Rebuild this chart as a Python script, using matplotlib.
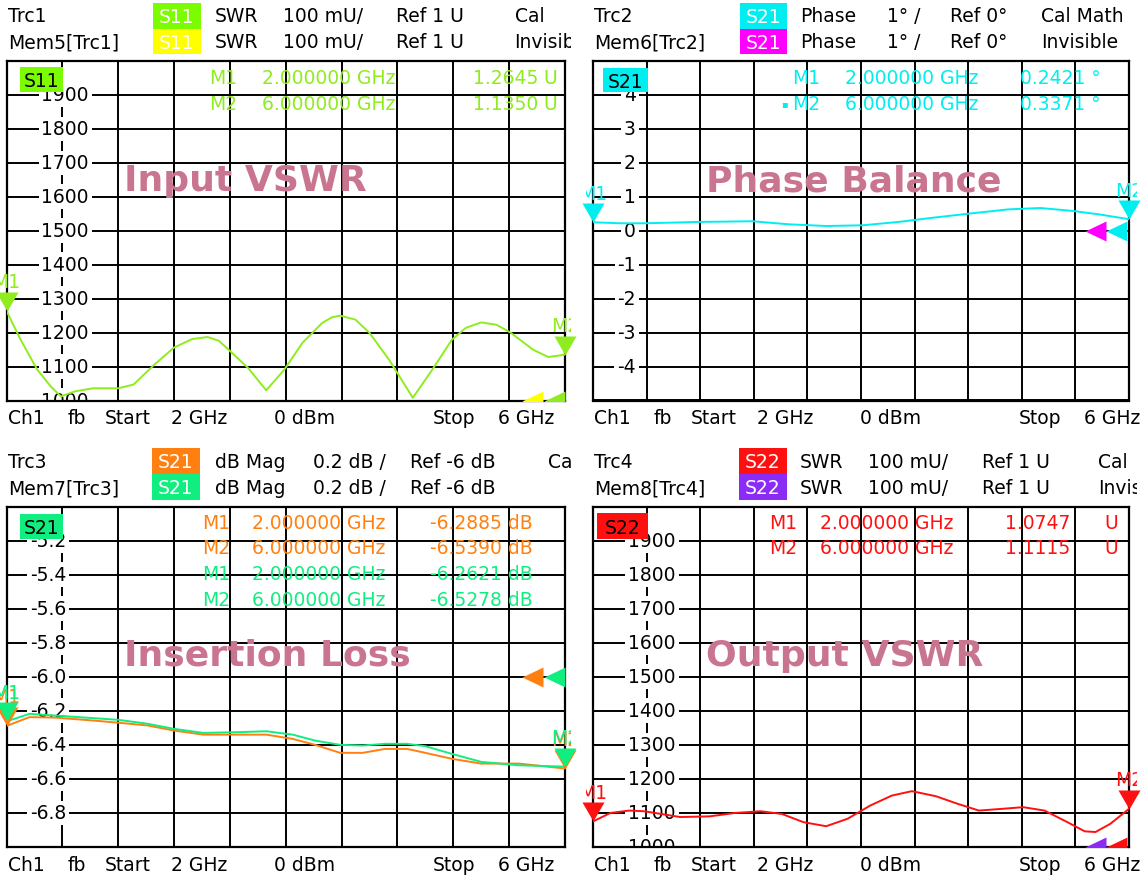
import numpy as np
import matplotlib
matplotlib.use("Agg")
import matplotlib.pyplot as plt
from matplotlib.patches import Rectangle
from matplotlib.transforms import Bbox, ScaledTranslation

W, H = 1143, 879

# ---- data (2 GHz .. 6 GHz sweep) ----
vswr_in_freq = [2.0, 2.1, 2.22, 2.32, 2.39, 2.49, 2.62, 2.80, 2.91, 3.06, 3.20, 3.33, 3.44,
                3.52, 3.59, 3.73, 3.86, 3.99, 4.12, 4.26, 4.33, 4.39, 4.50, 4.60, 4.74,
                4.91, 5.05, 5.19, 5.29, 5.40, 5.51, 5.61, 5.77, 5.88, 6.0]
vswr_in = [1264, 1180, 1091, 1040, 1012, 1027, 1036, 1036, 1047, 1106, 1156, 1181, 1187,
           1176, 1150, 1096, 1030, 1091, 1170, 1228, 1245, 1250, 1238, 1199, 1120,
           1008, 1091, 1179, 1214, 1230, 1223, 1200, 1150, 1128, 1135]

phase_freq = [2.0, 2.2, 2.375, 2.6, 2.78, 3.0, 3.19, 3.46, 3.74, 4.01, 4.28, 4.55, 4.82,
              5.10, 5.34, 5.59, 5.78, 6.0]
phase = [0.25, 0.22, 0.22, 0.24, 0.26, 0.27, 0.28, 0.19, 0.14, 0.16, 0.26, 0.39, 0.51,
         0.63, 0.67, 0.58, 0.48, 0.34]

il_freq = [2.0, 2.165, 2.35, 2.62, 2.80, 3.01, 3.20, 3.41, 3.68, 3.86, 4.05, 4.21, 4.39,
           4.55, 4.71, 4.87, 5.00, 5.19, 5.40, 5.67, 6.0]
il_trc = [-6.289, -6.237, -6.24, -6.257, -6.27, -6.286, -6.316, -6.34, -6.34, -6.34, -6.365,
          -6.40, -6.447, -6.447, -6.424, -6.424, -6.447, -6.482, -6.51, -6.51, -6.539]
il_mem = [-6.262, -6.218, -6.228, -6.243, -6.253, -6.276, -6.306, -6.33, -6.325, -6.32, -6.34,
          -6.375, -6.40, -6.404, -6.394, -6.394, -6.408, -6.453, -6.50, -6.52, -6.528]

vswr_out_freq = [2.0, 2.13, 2.27, 2.38, 2.51, 2.65, 2.87, 3.06, 3.25, 3.41, 3.57, 3.74, 3.90,
                 4.07, 4.23, 4.38, 4.56, 4.72, 4.88, 5.05, 5.21, 5.37, 5.54, 5.67, 5.75,
                 5.86, 6.0]
vswr_out = [1075, 1100, 1107, 1105, 1097, 1088, 1090, 1100, 1105, 1097, 1073, 1061, 1083,
            1122, 1151, 1164, 1149, 1127, 1107, 1112, 1117, 1107, 1073, 1046, 1044,
            1068, 1112]

vswr_ticks = [1000, 1100, 1200, 1300, 1400, 1500, 1600, 1700, 1800, 1900]
phase_ticks = [-4, -3, -2, -1, 0, 1, 2, 3, 4]
il_ticks = [-5.2, -5.4, -5.6, -5.8, -6.0, -6.2, -6.4, -6.6, -6.8]

LIME = '#8fec1e'
YELLOW = '#ffff00'
CYAN = '#00eef0'
MAGENTA = '#ff00ff'
ORANGE = '#ff8010'
MINT = '#10ee80'
RED = '#ff1010'
PURPLE = '#8a2cf6'
TITLE = '#c97590'
FS = 13.5

plt.rcParams['font.family'] = 'DejaVu Sans'
fig = plt.figure(figsize=(W / 100, H / 100), dpi=100)
fig.patch.set_facecolor('white')


def pix_clip(x0, y0, x1, y1):
    return Bbox.from_extents(x0, H - y1, x1, H - y0)


def ftext(x, y, s, color='black', size=FS, ha='left', clip=None, **kw):
    t = fig.text(x / W, 1 - y / H, s, color=color, fontsize=size, ha=ha, va='center', **kw)
    if clip is not None:
        t.set_clip_box(pix_clip(*clip))
        t.set_clip_on(True)
    return t


def fbox(x0, y0, x1, y1, fc, s, tc):
    fig.add_artist(Rectangle((x0 / W, 1 - y1 / H), (x1 - x0) / W, (y1 - y0) / H,
                             transform=fig.transFigure, fc=fc, ec='none', zorder=4))
    ftext((x0 + x1) / 2, (y0 + y1) / 2 + 1, s, color=tc, ha='center', zorder=5)


def panel(l, r, t, b, ylim):
    ax = fig.add_axes([l / W, 1 - b / H, (r - l) / W, (b - t) / H])
    ax.set_xlim(2, 6)
    ax.set_ylim(*ylim)
    ax.set_xticks(np.linspace(2, 6, 11))
    ax.set_yticks(np.linspace(ylim[0], ylim[1], 11))
    ax.tick_params(length=0, labelbottom=False, labelleft=False)
    ax.grid(True, color='black', lw=1.4)
    ax.set_axisbelow(True)
    for s in ax.spines.values():
        s.set_linewidth(1.6)
    return ax


def ylabels(ax, ticks, fmt, xpos, ha):
    for v in ticks:
        tx = ax.text(xpos, v, fmt(v), ha=ha, va='center', fontsize=FS, zorder=2,
                     bbox=dict(boxstyle='square,pad=0.15', fc='white', ec='none'))
        tx.set_clip_box(ax.bbox)
        tx.set_clip_on(True)


def ms(px):
    return 2 * px * 72 / 100


DOWN = [(0, 0), (-11, 19), (11, 19)]
LEFT = [(0, 0), (21, 10), (21, -10)]


def mark(ax, f, v, color, name, clip):
    ax.plot([f], [v], marker=DOWN, ms=ms(19), color=color, mec='none', clip_on=False, zorder=6)
    tr = ax.transData + ScaledTranslation(0, 29 / 100, fig.dpi_scale_trans)
    t = ax.text(f, v, name, transform=tr, color=color, fontsize=FS, ha='center', va='center',
                zorder=6)
    t.set_clip_box(pix_clip(*clip))
    t.set_clip_on(True)


def ref_tri(ax, v, color, off):
    tr = ax.get_yaxis_transform() + ScaledTranslation(-off / 100, 0, fig.dpi_scale_trans)
    ax.plot([1.0], [v], marker=LEFT, ms=ms(21), color=color, mec='none', transform=tr,
            clip_on=True, zorder=5)


def footer(x0, y):
    for dx, s in [(0, 'Ch1'), (60, 'fb'), (97, 'Start'), (163, '2 GHz'), (266, '0 dBm'),
                  (425, 'Stop'), (490, '6 GHz')]:
        ftext(x0 + dx, y, s)


# ---------------- top left: Input VSWR ----------------
ax1 = panel(6.5, 565, 62, 401.5, (1000, 2000))
ax1.plot(vswr_in_freq, vswr_in, color=LIME, lw=1.4, zorder=3)
ylabels(ax1, vswr_ticks, lambda v: f'{v:d}', 2.42, 'center')
ref_tri(ax1, 1000, YELLOW, 43)
ref_tri(ax1, 1000, LIME, 21)
mark(ax1, vswr_in_freq[0], vswr_in[0], LIME, 'M1', (0, 0, 571, 879))
mark(ax1, vswr_in_freq[-1], vswr_in[-1], LIME, 'M2', (0, 0, 571, 879))

ftext(8, 17, 'Trc1')
ftext(8, 43, 'Mem5[Trc1]')
fbox(153, 4, 201, 29.5, '#7cfc00', 'S11', 'white')
fbox(153, 29.5, 201, 55, YELLOW, 'S11', 'white')
for y in (17, 43):
    ftext(215, y, 'SWR')
    ftext(283, y, '100 mU/')
    ftext(396, y, 'Ref 1 U')
ftext(515, 17, 'Cal')
ftext(514, 43, 'Invisible', clip=(0, 0, 571, 879))
fbox(20, 68, 63, 93, '#7cfc00', 'S11', 'black')
for y, m, f, v in [(79, 'M1', '2.000000 GHz', '1.2645'), (104, 'M2', '6.000000 GHz', '1.1350')]:
    ftext(209, y, m, color=LIME, zorder=5)
    ftext(262, y, f, color=LIME, zorder=5)
    ftext(473, y, v, color=LIME, zorder=5)
    ftext(543, y, 'U', color=LIME, zorder=5)
ftext(124, 181, 'Input VSWR', color=TITLE, size=26, weight='bold', zorder=5)
footer(8, 419)

# ---------------- top right: Phase Balance ----------------
ax2 = panel(593, 1129, 62, 401.5, (-5, 5))
ax2.plot(phase_freq, phase, color=CYAN, lw=1.4, zorder=3)
ylabels(ax2, phase_ticks, lambda v: f'{v:d}', 2.32, 'right')
ref_tri(ax2, 0, MAGENTA, 44)
ref_tri(ax2, 0, CYAN, 23)
mark(ax2, phase_freq[0], phase[0], CYAN, 'M1', (586, 0, 1137, 879))
mark(ax2, phase_freq[-1], phase[-1], CYAN, 'M2', (586, 0, 1137, 879))

ftext(594, 17, 'Trc2')
ftext(594, 43, 'Mem6[Trc2]')
fbox(740, 4, 787, 29.5, CYAN, 'S21', 'white')
fbox(740, 29.5, 787, 55, MAGENTA, 'S21', 'white')
for y in (17, 43):
    ftext(800, y, 'Phase')
    ftext(887, y, '1° /')
    ftext(950, y, 'Ref 0°')
ftext(1041, 17, 'Cal Math', clip=(586, 0, 1137, 879))
ftext(1041, 43, 'Invisible', clip=(586, 0, 1137, 879))
fbox(603, 69, 648, 93, CYAN, 'S21', 'black')
ftext(781, 104, '▪', color=CYAN, size=7, zorder=5)
for y, m, f, v in [(79, 'M1', '2.000000 GHz', '0.2421 °'), (104, 'M2', '6.000000 GHz', '0.3371 °')]:
    ftext(792, y, m, color=CYAN, zorder=5)
    ftext(845, y, f, color=CYAN, zorder=5)
    ftext(1020, y, v, color=CYAN, zorder=5)
ftext(706, 181, 'Phase Balance', color=TITLE, size=26, weight='bold', zorder=5)
footer(594, 419)

# ---------------- bottom left: Insertion Loss ----------------
ax3 = panel(6.5, 565, 507.5, 848, (-7.0, -5.0))
ax3.plot(il_freq, il_trc, color=ORANGE, lw=1.4, zorder=3)
ax3.plot(il_freq, il_mem, color=MINT, lw=1.4, zorder=3)
ylabels(ax3, il_ticks, lambda v: f'{v:.1f}', 2.43, 'right')
ref_tri(ax3, -6.0, ORANGE, 43)
ref_tri(ax3, -6.0, MINT, 21)
mark(ax3, il_freq[0], il_trc[0], ORANGE, 'M1', (0, 0, 571, 879))
mark(ax3, il_freq[0], il_mem[0], MINT, 'M1', (0, 0, 571, 879))
mark(ax3, il_freq[-1], il_trc[-1], ORANGE, 'M2', (0, 0, 571, 879))
mark(ax3, il_freq[-1], il_mem[-1], MINT, 'M2', (0, 0, 571, 879))

ftext(8, 463, 'Trc3')
ftext(8, 489, 'Mem7[Trc3]')
fbox(152, 449, 200, 475, ORANGE, 'S21', 'white')
fbox(152, 475, 200, 501, MINT, 'S21', 'white')
for y in (463, 489):
    ftext(215, y, 'dB Mag')
    ftext(313, y, '0.2 dB /')
    ftext(410, y, 'Ref -6 dB')
ftext(548, 463, 'Cal', clip=(0, 0, 571, 879))
fbox(20, 515, 63, 540, MINT, 'S21', 'black')
rows = [(524, ORANGE, 'M1', '2.000000 GHz', '-6.2885 dB'),
        (549, ORANGE, 'M2', '6.000000 GHz', '-6.5390 dB'),
        (575, MINT, 'M1', '2.000000 GHz', '-6.2621 dB'),
        (600, MINT, 'M2', '6.000000 GHz', '-6.5278 dB')]
for y, c, m, f, v in rows:
    ftext(202, y, m, color=c, zorder=5)
    ftext(252, y, f, color=c, zorder=5)
    ftext(430, y, v, color=c, zorder=5)
ftext(124, 656, 'Insertion Loss', color=TITLE, size=26, weight='bold', zorder=5)
footer(8, 866)

# ---------------- bottom right: Output VSWR ----------------
ax4 = panel(593, 1129, 507.5, 848, (1000, 2000))
ax4.plot(vswr_out_freq, vswr_out, color=RED, lw=1.4, zorder=3)
ylabels(ax4, vswr_ticks, lambda v: f'{v:d}', 2.44, 'center')
ref_tri(ax4, 1000, PURPLE, 44)
ref_tri(ax4, 1000, RED, 23)
mark(ax4, vswr_out_freq[0], vswr_out[0], RED, 'M1', (586, 0, 1137, 879))
mark(ax4, vswr_out_freq[-1], vswr_out[-1], RED, 'M2', (586, 0, 1137, 879))

ftext(594, 463, 'Trc4')
ftext(594, 489, 'Mem8[Trc4]')
fbox(739, 449, 787, 475, RED, 'S22', 'white')
fbox(739, 475, 787, 501, PURPLE, 'S22', 'white')
for y in (463, 489):
    ftext(800, y, 'SWR')
    ftext(868, y, '100 mU/')
    ftext(982, y, 'Ref 1 U')
ftext(1098, 463, 'Cal', clip=(586, 0, 1137, 879))
ftext(1098, 489, 'Invisible', clip=(586, 0, 1137, 879))
fbox(597, 514, 648, 540, RED, 'S22', 'black')
for y, m, f, v in [(524, 'M1', '2.000000 GHz', '1.0747'), (549, 'M2', '6.000000 GHz', '1.1115')]:
    ftext(769, y, m, color=RED, zorder=5)
    ftext(820, y, f, color=RED, zorder=5)
    ftext(1005, y, v, color=RED, zorder=5)
    ftext(1104, y, 'U', color=RED, zorder=5)
ftext(706, 656, 'Output VSWR', color=TITLE, size=26, weight='bold', zorder=5)
footer(594, 866)

fig.savefig('out.png', dpi=100, facecolor='white')
